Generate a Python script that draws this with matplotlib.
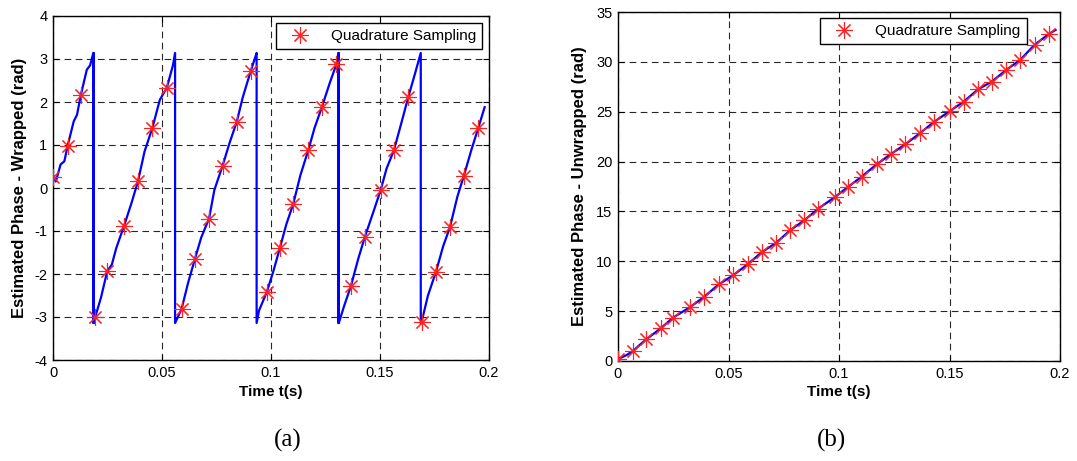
import matplotlib
matplotlib.use('Agg')
import matplotlib.pyplot as plt

# =========================
# DATA
# =========================
# sample instants of the quadrature sampler (s)
t_samples = [0, 0.0067, 0.0128, 0.0193, 0.0249, 0.0326, 0.039, 0.0456, 0.0522,
             0.059, 0.0651, 0.0716, 0.0778, 0.0843, 0.0907, 0.098, 0.1041,
             0.1102, 0.1171, 0.1234, 0.130, 0.1366, 0.1431, 0.1503, 0.1564,
             0.163, 0.1691, 0.1756, 0.1821, 0.1885, 0.1951]

# wrapped phase at the samples (rad), panel (a)
phase_wrapped = [0.25, 0.98, 2.17, -3.01, -1.93, -0.88, 0.16, 1.40, 2.33,
                 -2.81, -1.65, -0.71, 0.52, 1.54, 2.72, -2.43, -1.39, -0.37,
                 0.88, 1.89, 2.88, -2.29, -1.13, -0.05, 0.88, 2.12, -3.11,
                 -1.96, -0.91, 0.29, 1.40]

# unwrapped phase at the samples (rad), panel (b)
phase_unwrapped = [0.25, 0.98, 2.17, 3.27, 4.35, 5.40, 6.44, 7.68, 8.61,
                   9.76, 10.92, 11.86, 13.09, 14.11, 15.29, 16.42, 17.46,
                   18.48, 19.73, 20.74, 21.73, 22.84, 24.00, 25.08, 26.01,
                   27.25, 28.02, 29.17, 30.22, 31.71, 32.82]

# continuous estimate (blue trace), panel (a)
t_line_a = [0, 0.0013, 0.0035, 0.0052, 0.0067, 0.0095, 0.011, 0.0128, 0.0155,
            0.017, 0.0185, 0.0185, 0.0187, 0.0187,
            0.0193, 0.022, 0.0249, 0.027, 0.029, 0.0326, 0.036, 0.039, 0.042,
            0.0456, 0.049, 0.0522, 0.055, 0.056, 0.056,
            0.059, 0.062, 0.0651, 0.068, 0.0716, 0.074, 0.0778, 0.081, 0.0843,
            0.087, 0.0907, 0.0925, 0.0934, 0.0934,
            0.0945, 0.098, 0.101, 0.1041, 0.107, 0.1102, 0.1135, 0.1171, 0.120,
            0.1234, 0.127, 0.130, 0.1309, 0.1309, 0.1311, 0.1311,
            0.1335, 0.1366, 0.140, 0.1431, 0.147, 0.1503, 0.153, 0.1564, 0.160,
            0.163, 0.166, 0.1687, 0.1687,
            0.1691, 0.172, 0.1756, 0.179, 0.1821, 0.1855, 0.1885, 0.192, 0.1951,
            0.198]
phase_line_a = [0.30, 0.15, 0.55, 0.62, 0.98, 1.55, 1.70, 2.17, 2.75,
                2.85, 3.14, -3.14, 3.14, -3.14,
                -3.01, -2.55, -1.93, -1.78, -1.40, -0.88, -0.35, 0.16, 0.85,
                1.40, 2.05, 2.33, 2.85, 3.14, -3.14,
                -2.81, -2.20, -1.65, -1.15, -0.71, -0.05, 0.52, 1.05, 1.54,
                2.10, 2.72, 3.00, 3.14, -3.14,
                -2.85, -2.43, -1.95, -1.39, -0.85, -0.37, 0.30, 0.88, 1.40,
                1.89, 2.45, 2.88, 3.14, -3.14, 3.14, -3.14,
                -2.75, -2.29, -1.65, -1.13, -0.55, -0.05, 0.45, 0.88, 1.55,
                2.12, 2.65, 3.14, -3.14,
                -3.11, -2.50, -1.96, -1.35, -0.91, -0.20, 0.29, 0.90, 1.40,
                1.88]

# continuous estimate (blue trace), panel (b)
t_line_b = [0, 0.0035, 0.0067, 0.0095, 0.0128, 0.0193, 0.0249, 0.0326, 0.039,
            0.0456, 0.0522, 0.059, 0.0651, 0.0716, 0.0778, 0.0843, 0.0907,
            0.098, 0.1041, 0.1102, 0.1171, 0.1234, 0.130, 0.1366, 0.1431,
            0.1503, 0.1564, 0.163, 0.1691, 0.1756, 0.1821, 0.1885, 0.1951,
            0.198]
phase_line_b = [0.20, 0.55, 0.98, 1.55, 2.17, 3.27, 4.35, 5.40, 6.44, 7.68,
                8.61, 9.76, 10.92, 11.86, 13.09, 14.11, 15.29, 16.42, 17.46,
                18.48, 19.73, 20.74, 21.73, 22.84, 24.00, 25.08, 26.01, 27.25,
                28.02, 29.17, 30.22, 31.71, 32.82, 33.20]

x_ticks = [0, 0.05, 0.1, 0.15, 0.2]
x_tick_labels = ['0', '0.05', '0.1', '0.15', '0.2']
y_ticks_a = [-4, -3, -2, -1, 0, 1, 2, 3, 4]
y_ticks_b = [0, 5, 10, 15, 20, 25, 30, 35]

# =========================
# STYLE
# =========================
SANS = ['Liberation Sans', 'DejaVu Sans']
plt.rcParams['font.family'] = SANS
star = (8, 2, 0)  # asterisk like the MATLAB '*'


def style_axes(ax, yticks, ylabel, ylim):
    ax.set_xlim(0, 0.2)
    ax.set_ylim(*ylim)
    ax.set_xticks(x_ticks)
    ax.set_xticklabels(x_tick_labels)
    ax.set_yticks(yticks)
    ax.set_yticklabels([str(v) for v in yticks])
    ax.tick_params(direction='in', top=True, right=True, length=4,
                   labelsize=10.5, pad=4, width=0.8)
    ax.grid(True, color='0.15', linestyle=(0, (6, 4)), linewidth=0.8)
    for s in ax.spines.values():
        s.set_linewidth(1.0)
    ax.set_xlabel('Time t(s)', fontsize=11, fontweight='bold')
    ax.set_ylabel(ylabel, fontsize=12, fontweight='bold')


legend_kw = dict(loc='upper right', fontsize=11, frameon=True, fancybox=False,
                 edgecolor='black', framealpha=1, borderpad=0.4,
                 handletextpad=0.9, borderaxespad=0.0, handlelength=2.3)

fig = plt.figure(figsize=(10.77, 4.61), dpi=100)

# =========================
# (a) WRAPPED
# =========================
ax1 = fig.add_axes([53 / 1077, 1 - 360 / 461, 436 / 1077, 344 / 461])
ax1.plot(t_line_a, phase_line_a, color='#0000ff', linewidth=1.6, zorder=3)
ax1.plot(t_samples, phase_wrapped, linestyle='none', marker=star,
         markersize=12, markeredgewidth=0.8, color='#ff2020',
         label='Quadrature Sampling', zorder=4)
style_axes(ax1, y_ticks_a, 'Estimated Phase - Wrapped (rad)', (-4, 4))
ax1.xaxis.set_label_coords(0.5, -0.073)
ax1.yaxis.set_label_coords(-0.06, 0.5)
ax1.legend(bbox_to_anchor=(0.985, 0.98), **legend_kw)

# =========================
# (b) UNWRAPPED
# =========================
ax2 = fig.add_axes([618 / 1077, 1 - 361 / 461, 442 / 1077, 349 / 461])
ax2.plot(t_line_b, phase_line_b, color='#0000ff', linewidth=1.6, zorder=3)
ax2.plot(t_samples, phase_unwrapped, linestyle='none', marker=star,
         markersize=12, markeredgewidth=0.8, color='#ff2020',
         label='Quadrature Sampling', zorder=4)
style_axes(ax2, y_ticks_b, 'Estimated Phase - Unwrapped (rad)', (0, 35))
ax2.xaxis.set_label_coords(0.5, -0.069)
ax2.yaxis.set_label_coords(-0.07, 0.5)
ax2.legend(bbox_to_anchor=(0.925, 0.983), **legend_kw)

# captions
fig.text(288 / 1077, 1 - 440 / 461, '(a)', ha='center', va='center',
         fontsize=18, family=['Liberation Serif', 'DejaVu Serif'])
fig.text(832 / 1077, 1 - 440 / 461, '(b)', ha='center', va='center',
         fontsize=18, family=['Liberation Serif', 'DejaVu Serif'])

fig.savefig('out.png', dpi=100)
